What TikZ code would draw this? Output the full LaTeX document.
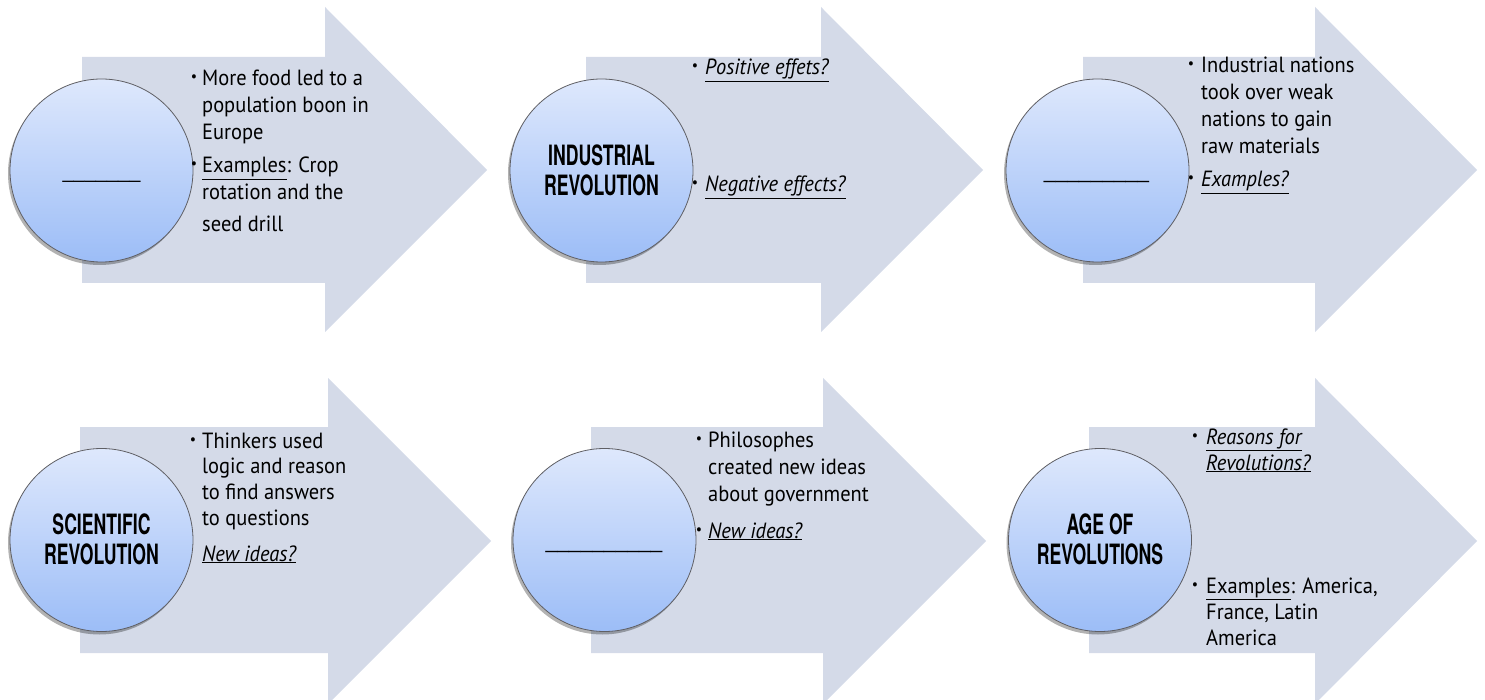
\documentclass[tikz,border=0pt]{standalone}
\usepackage{fontspec}
\setmainfont{PT Sans}
\newfontfamily\hand[FakeStretch=0.93]{PT Sans}
\newfontfamily\ttl[FakeStretch=0.63]{TeX Gyre Heros}
\newfontfamily\lib{Liberation Sans}
\usetikzlibrary{shadows}
\definecolor{arrowfill}{RGB}{212,218,232}
\definecolor{disctop}{RGB}{222,232,252}
\definecolor{discbot}{RGB}{156,189,247}
\definecolor{discborder}{RGB}{95,95,100}
\tikzset{
  arrowshape/.style={fill=arrowfill, draw=none},
  disc/.style={circle, minimum size=183pt, inner sep=0pt, draw=discborder, line width=0.8pt,
    top color=disctop, bottom color=discbot,
    drop shadow={shadow xshift=-2pt, shadow yshift=-3pt, opacity=0.3, fill=black}},
  bodytext/.style={anchor=base west, inner sep=0pt, font=\hand\fontsize{22}{27}\selectfont},
  bul/.style={anchor=base, inner sep=0pt, font=\hand\fontsize{15}{15}\selectfont},
  title/.style={align=center, inner sep=0pt, font=\ttl\bfseries\fontsize{28}{30}\selectfont},
  blank/.style={anchor=base, inner sep=0pt}
}
\newcommand{\ul}[1]{\underline{#1}}
\newcommand{\iul}[1]{\underline{\itshape #1}}
\newcommand{\two}[2]{\vtop{\hbox{#1}\hbox{#2}}}
\newcommand{\three}[3]{\vtop{\hbox{#1}\hbox{#2}\hbox{#3}}}
\newcommand{\four}[4]{\vtop{\hbox{#1}\hbox{#2}\hbox{#3}\hbox{#4}}}
\begin{document}
\begin{tikzpicture}[x=1pt, y=-1pt]
\useasboundingbox (0,0) rectangle (1485,700);
% arrows row 1
\fill[arrowshape] (82,57) -- (325,57) -- (325,7) -- (487,170) -- (325,332) -- (325,283) -- (82,283) -- cycle;
\fill[arrowshape] (586,57) -- (821,57) -- (821,7) -- (983,170) -- (821,332) -- (821,283) -- (586,283) -- cycle;
\fill[arrowshape] (1083,57) -- (1315,57) -- (1315,7) -- (1477,170) -- (1315,332) -- (1315,283) -- (1083,283) -- cycle;
% arrows row 2
\fill[arrowshape] (80,427) -- (328,427) -- (328,378) -- (491,541) -- (328,704) -- (328,653) -- (80,653) -- cycle;
\fill[arrowshape] (591,427) -- (823,427) -- (823,378) -- (986,541) -- (823,704) -- (823,653) -- (591,653) -- cycle;
\fill[arrowshape] (1089,427) -- (1315,427) -- (1315,378) -- (1477,541) -- (1315,704) -- (1315,653) -- (1089,653) -- cycle;

% circles
\node[disc] (c1) at (101.5,170.5) {};
\node[disc] (c2) at (601.5,170.5) {};
\node[disc] (c3) at (1097.5,170.5) {};
\node[disc] (d1) at (101.5,540) {};
\node[disc] (d2) at (604.5,540) {};
\node[disc] (d3) at (1100,540) {};

% circle labels
\node[blank, font=\lib\fontsize{20}{20}\selectfont] (c1t) at (101.5,179) {\_\_\_\_\_\_\_};
\node[title] (c2t) at (601.5,170.5) {INDUSTRIAL\\REVOLUTION};
\node[blank, font=\lib\fontsize{21}{21}\selectfont] (c3t) at (1096.5,178.5) {\_\_\_\_\_\_\_\_\_};
\node[title] (d1t) at (101.5,539) {SCIENTIFIC\\REVOLUTION};
\node[blank, font=\lib\fontsize{21}{21}\selectfont] (d2t) at (604,548.5) {\_\_\_\_\_\_\_\_\_\_};
\node[title] (d3t) at (1100,539) {AGE OF\\REVOLUTIONS};

% texts arrow 1
\node[bul] (a1b1) at (194,82) {•};
\node[bodytext] (a1t1) at (202,86) {\three{More food led to a}{population boon in}{Europe}};
\node[bul] (a1b2) at (194,169) {•};
\node[bodytext] (a1t2) at (202,173) {\vtop{\hbox{\ul{Examples}: Crop}\hbox{rotation and the}\vskip5pt\hbox{seed drill}}};
% arrow 2
\node[bul] (a2b1) at (695,71) {•};
\node[bodytext] (a2t1) at (705,75) {\iul{Positive effets?}};
\node[bul] (a2b2) at (695,188) {•};
\node[bodytext] (a2t2) at (705,192) {\iul{Negative effects?}};
% arrow 3
\node[bul] (a3b1) at (1191,69) {•};
\node[bodytext] (a3t1) at (1201,73) {\four{Industrial nations}{took over weak}{nations to gain}{raw materials}};
\node[bul] (a3b2) at (1191,183) {•};
\node[bodytext] (a3t2) at (1201,187) {\iul{Examples?}};
% row 2 arrow 1
\node[bul] (b1b1) at (193,444) {•};
\node[bodytext, font=\hand\fontsize{22}{25.7}\selectfont] (b1t1) at (202,448) {\four{Thinkers used}{logic and reason}{to find answers}{to questions}};
\node[bodytext] (b1t2) at (202,561) {\iul{New ideas?}};
% row 2 arrow 2
\node[bul] (b2b1) at (699,443) {•};
\node[bodytext] (b2t1) at (708,447) {\three{Philosophes}{created new ideas}{about government}};
\node[bul] (b2b2) at (699,534) {•};
\node[bodytext] (b2t2) at (708,538) {\iul{New ideas?}};
% row 2 arrow 3
\node[bul] (b3b1) at (1195,440) {•};
\node[bodytext, font=\hand\fontsize{22}{26}\selectfont] (b3t1) at (1206,444) {\two{\iul{Reasons for}}{\iul{Revolutions?}}};
\node[bul] (b3b2) at (1195,589) {•};
\node[bodytext, font=\hand\fontsize{22}{26}\selectfont] (b3t2) at (1206,593) {\three{\ul{Examples}: America,}{France, Latin}{America}};
\end{tikzpicture}
\end{document}
